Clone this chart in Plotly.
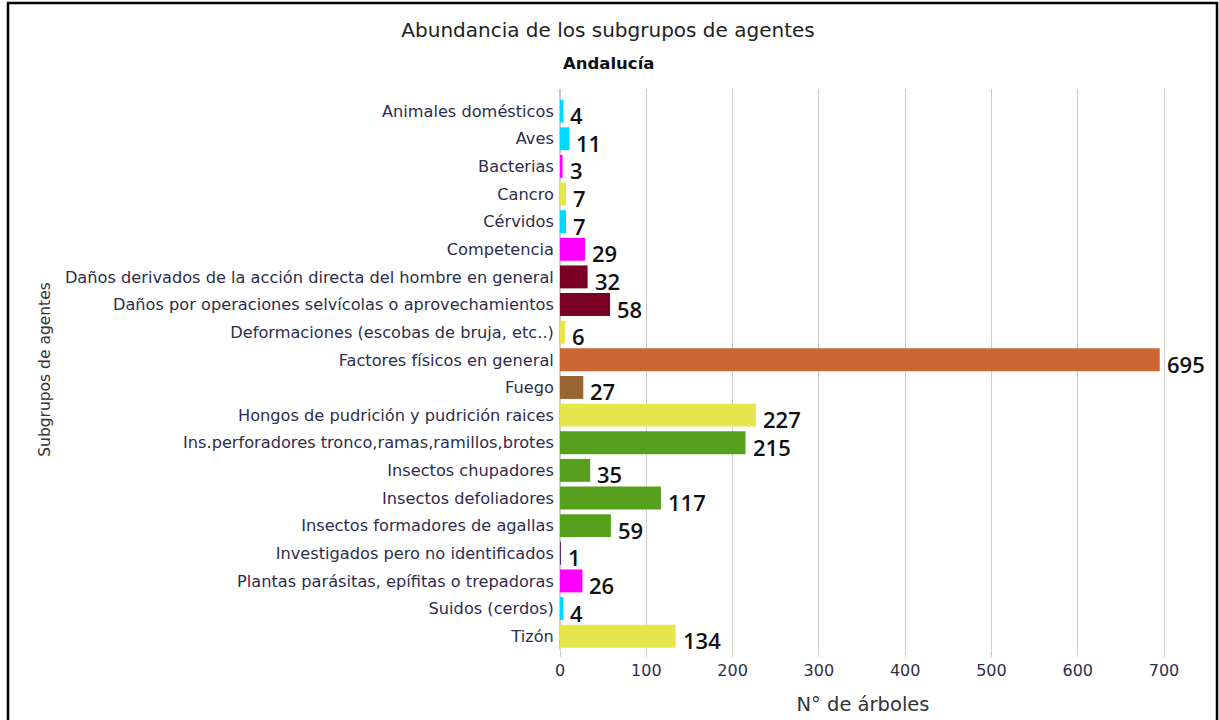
import plotly.graph_objects as go

# Datos: subgrupos de agentes (Andalucía)
subgrupos = [
    "Animales domésticos",
    "Aves",
    "Bacterias",
    "Cancro",
    "Cérvidos",
    "Competencia",
    "Daños derivados de la acción directa del hombre en general",
    "Daños por operaciones selvícolas o aprovechamientos",
    "Deformaciones (escobas de bruja, etc..)",
    "Factores físicos en general",
    "Fuego",
    "Hongos de pudrición y pudrición raices",
    "Ins.perforadores tronco,ramas,ramillos,brotes",
    "Insectos chupadores",
    "Insectos defoliadores",
    "Insectos formadores de agallas",
    "Investigados pero no identificados",
    "Plantas parásitas, epífitas o trepadoras",
    "Suidos (cerdos)",
    "Tizón",
]
arboles = [4, 11, 3, 7, 7, 29, 32, 58, 6, 695, 27, 227, 215, 35, 117, 59, 1, 26, 4, 134]

colores = [
    "#00d8ff", "#00d8ff", "#ff00ff", "#e6e64c", "#00d8ff", "#ff00ff",
    "#7a0026", "#7a0026", "#e6e64c", "#cc6633", "#996633", "#e6e64c",
    "#56a01e", "#56a01e", "#56a01e", "#56a01e", "#5e2a8c", "#ff00ff",
    "#00d8ff", "#e6e64c",
]

fig = go.Figure(
    go.Bar(
        x=arboles,
        y=subgrupos,
        orientation="h",
        marker=dict(color=colores, line=dict(width=0)),
        hovertemplate="%{y}: %{x}<extra></extra>",
        cliponaxis=False,
    )
)

# Etiquetas de valor junto a cada barra
for sg, v in zip(subgrupos, arboles):
    fig.add_annotation(
        x=v, y=sg, text=str(v), showarrow=False,
        xanchor="left", xshift=5, yshift=-4,
        font=dict(family="Open Sans", size=22, color="#111111", weight=600),
    )

# Subtítulo
fig.add_annotation(
    text="Andalucía", xref="paper", yref="paper",
    x=(608 - 560) / 606, y=(650 - 64) / 561,
    xanchor="center", yanchor="middle", showarrow=False,
    font=dict(family="DejaVu Sans", size=16.5, color="#111111", weight="bold"),
)

# Marco exterior
fig.add_shape(
    type="rect", xref="paper", yref="paper",
    x0=(8 - 560) / 606, x1=(1217 - 560) / 606,
    y0=-0.2, y1=(650 - 3) / 561,
    line=dict(color="black", width=2.5), fillcolor="rgba(0,0,0,0)",
)

fig.update_layout(
    width=1219,
    height=720,
    paper_bgcolor="white",
    plot_bgcolor="white",
    margin=dict(l=560, r=53, t=89, b=70),
    bargap=0.17,
    showlegend=False,
    font=dict(family="DejaVu Sans", color="#2d2d4d"),
    title=dict(
        text="Abundancia de los subgrupos de agentes",
        x=0.4988, xanchor="center", y=0.9583, yanchor="middle",
        font=dict(family="DejaVu Sans", size=20, color="#222222"),
    ),
    xaxis=dict(
        range=[0, 702.3],
        tickvals=[0, 100, 200, 300, 400, 500, 600, 700],
        showgrid=True,
        gridcolor="#cccccc",
        gridwidth=1,
        zeroline=True,
        zerolinecolor="#cccccc",
        ticks="outside",
        ticklen=6,
        tickcolor="#cccccc",
        automargin=False,
        tickfont=dict(family="DejaVu Sans", size=16, color="#2d2d4d"),
        title=dict(text="N° de árboles", font=dict(family="DejaVu Sans", size=19.5, color="#333333"), standoff=18),
    ),
    yaxis=dict(
        range=[len(subgrupos) - 0.5, -0.8],
        showgrid=False,
        ticks="",
        ticksuffix=" ",
        automargin=False,
        tickfont=dict(family="DejaVu Sans", size=16.2, color="#2d2d4d"),
        title=dict(text="Subgrupos de agentes", font=dict(family="DejaVu Sans", size=15.5, color="#333333"), standoff=10),
    ),
)

fig.write_html(
    "out.html",
    config={"displayModeBar": False},
    post_script="document.body.style.margin='0';",
)
